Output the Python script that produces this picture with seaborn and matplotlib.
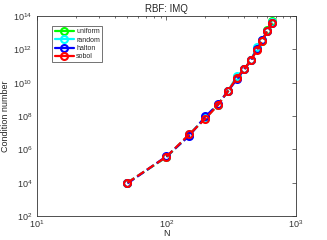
import numpy as np
import pandas as pd
import matplotlib
matplotlib.use("Agg")
import matplotlib.pyplot as plt
import seaborn as sns
from matplotlib.lines import Line2D
from matplotlib.ticker import LogLocator, NullFormatter

# data
N = [50, 100, 150, 200, 250, 300, 350, 400, 450, 500, 550, 600, 650]
uniform = [1.0e4, 3.4e5, 7.5e6, 7.5e7, 4.8e8, 3.2e9, 2.2e10, 6.8e10, 2.4e11, 1.1e12, 3.4e12, 1.4e13, 5.0e13]
random_ = [1.0e4, 3.5e5, 7.8e6, 8.0e7, 4.7e8, 3.4e9, 2.4e10, 6.5e10, 2.2e11, 1.4e12, 3.5e12, 1.3e13, 4.3e13]
halton = [0.9e4, 3.8e5, 6.5e6, 9.5e7, 5.0e8, 3.3e9, 1.6e10, 6.6e10, 2.3e11, 1.0e12, 3.7e12, 1.3e13, 3.8e13]
sobol = [1.0e4, 3.6e5, 8.0e6, 7.0e7, 4.6e8, 3.3e9, 2.0e10, 6.6e10, 2.3e11, 9.0e11, 3.3e12, 1.3e13, 4.0e13]

names = ["uniform", "random", "halton", "sobol"]
colors = ["#00ff00", "#00ffff", "#0000ff", "#ff0000"]

df = pd.DataFrame({"N": N * 4,
                   "cond": uniform + random_ + halton + sobol,
                   "method": sum([[n] * len(N) for n in names], [])})

sns.set_style("white")
plt.rcParams["font.family"] = ["Liberation Sans", "DejaVu Sans"]

fig = plt.figure(figsize=(3.27, 2.4), dpi=100)
ax = fig.add_axes([0.113, 0.1, 0.792, 0.833])

for name, c in zip(names, colors):
    sub = df[df["method"] == name]
    sns.lineplot(data=sub, x="N", y="cond", ax=ax, color=c, linestyle="--",
                 linewidth=1.6, marker="o", markersize=5, markerfacecolor="none",
                 markeredgecolor=c, markeredgewidth=1.5, dashes=(3, 3))

ax.set_xscale("log")
ax.set_yscale("log")
ax.set_xlim(10, 1000)
ax.set_ylim(1e2, 1e14)
ax.set_yticks([1e2, 1e4, 1e6, 1e8, 1e10, 1e12, 1e14])
ax.yaxis.set_minor_locator(LogLocator(base=10, subs=[]))
ax.yaxis.set_minor_formatter(NullFormatter())
ax.xaxis.set_minor_locator(LogLocator(base=10, subs=np.arange(2, 10)))
ax.xaxis.set_minor_formatter(NullFormatter())

ax.tick_params(which="both", direction="in", top=True, right=True, labelsize=6.5, colors="#333333")
ax.tick_params(which="major", length=3, width=0.5)
ax.tick_params(which="minor", length=1.6, width=0.5)
ax.tick_params(axis="x", pad=2)
for s in ax.spines.values():
    s.set_linewidth(0.6)
    s.set_color("#333333")

ax.set_title("RBF: IMQ", fontsize=7, pad=3)
ax.set_xlabel("N", fontsize=6.5, labelpad=-1)
ax.set_ylabel("Condition number", fontsize=6.5, labelpad=2)

handles = [Line2D([], [], color=c, linewidth=1.6, marker="o", markersize=5,
                  markerfacecolor="none", markeredgewidth=1.5) for c in colors]
leg = ax.legend(handles, names, loc="upper left", bbox_to_anchor=(0.06, 0.95),
                fontsize=5, frameon=True, fancybox=False, borderpad=0.3,
                labelspacing=0.2, handlelength=2.8, handletextpad=0.3, borderaxespad=0)
leg.get_frame().set_edgecolor("#333333")
leg.get_frame().set_linewidth(0.6)

fig.savefig("out.png", dpi=100)
